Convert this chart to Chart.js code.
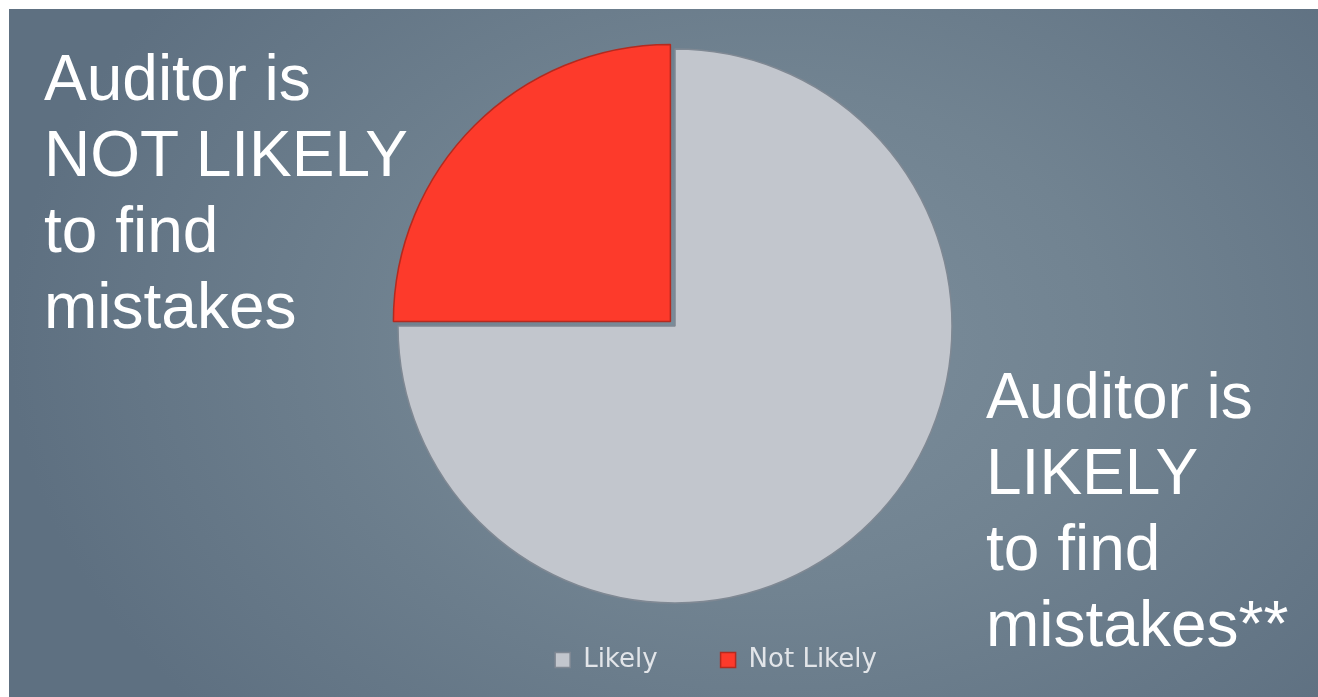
<!DOCTYPE html>
<html lang="en">
<head>
<meta charset="UTF-8">
<title>Auditor likelihood</title>
<script src="https://cdn.jsdelivr.net/npm/chart.js@4.4.1/dist/chart.umd.min.js"></script>
<style>
    body { margin: 0; background: #fff; width: 1318px; height: 697px; overflow: hidden; position: relative; }
    .slide { position: absolute; left: 9px; top: 9px; right: 0; bottom: 0;
             background: radial-gradient(ellipse 760px 560px at 760px 330px, #7c8e9c 0%, #718391 45%, #5e7081 100%); }
    .chart-box { position: absolute; left: 0; top: 0; width: 1318px; height: 697px; }
    .note { position: absolute; color: #fff; font-family: "Liberation Sans", Arial, sans-serif;
            font-size: 64px; line-height: 76px; white-space: pre; }
</style>
</head>
<body>
<div class="slide"></div>
<div class="chart-box"><canvas id="pie"></canvas></div>
<div class="note" style="left:44px; top:40px;">Auditor is
NOT LIKELY
to find
mistakes</div>
<div class="note" style="left:986px; top:358px;">Auditor is
LIKELY
to find
mistakes**</div>

<script>
    const labels = ['Likely', 'Not Likely'];
    const shares = [75, 25];
    const colors = ['#c2c6cd', '#fd3a2b'];
    const edges = ['#7f8893', '#b42a1f'];

    // legend in the original sits a bit right of the pie centre
    const legendShift = {
        id: 'legendShift',
        afterLayout(chart) {
            chart.legend.left += 41;
            chart.legend.right += 41;
        }
    };

    new Chart(document.getElementById('pie'), {
        type: 'pie',
        data: {
            labels,
            datasets: [{
                data: shares,
                backgroundColor: colors,
                borderColor: edges,
                borderWidth: 1.5,
                offset: [0, 26],   // arc draws offset/4 px
                radius: 277,
                clip: false
            }]
        },
        options: {
            responsive: true,
            maintainAspectRatio: false,
            animation: false,
            events: [],
            layout: { padding: { left: 32, right: 0, top: 68, bottom: 14 } },
            plugins: {
                tooltip: { enabled: false },
                legend: {
                    position: 'bottom',
                    labels: {
                        boxWidth: 15,
                        boxHeight: 15,
                        padding: 63,
                        color: '#e2e5e9',
                        font: { family: 'DejaVu Sans', size: 26 }
                    }
                }
            }
        },
        plugins: [legendShift]
    });
</script>
</body>
</html>
